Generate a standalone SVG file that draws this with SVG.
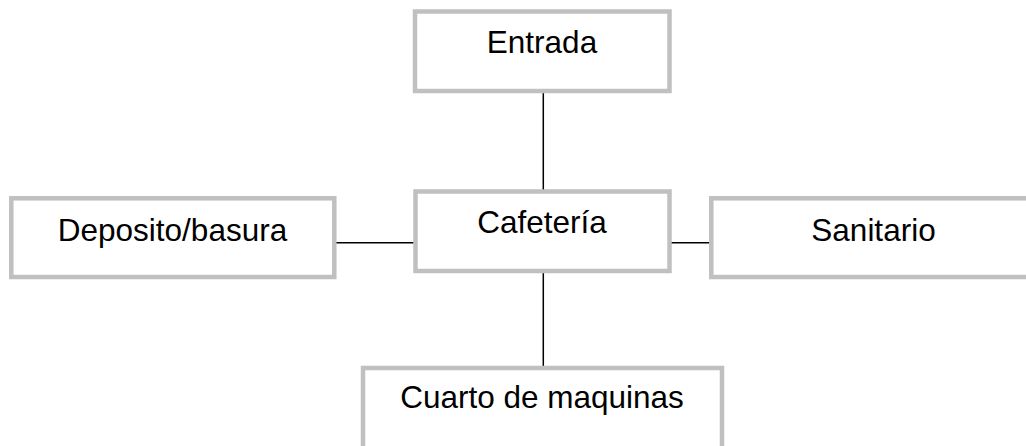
<svg xmlns="http://www.w3.org/2000/svg" width="1026" height="446" viewBox="0 0 1026 446">
<style>
.box{fill:#ffffff;stroke:#c0c0c0;stroke-width:4.5}
.lbl{font-family:"Liberation Sans",Arial,sans-serif;font-size:31.5px;fill:#000000;text-anchor:middle}
.conn line{stroke:#000000;stroke-width:1.5}
</style>
<rect width="1026" height="446" fill="#ffffff"/>
<g class="conn" id="connectors">
<line x1="543.3" y1="92" x2="543.3" y2="191"/>
<line x1="336" y1="242.7" x2="414" y2="242.7"/>
<line x1="671" y1="242.7" x2="710" y2="242.7"/>
<line x1="543.3" y1="272" x2="543.3" y2="366"/>
</g>
<g id="entrada">
<rect class="box" x="415" y="11.5" width="254.5" height="79.5"/>
<text class="lbl" x="542" y="53.3">Entrada</text>
</g>
<g id="cafeteria">
<rect class="box" x="415.5" y="191.5" width="254" height="79.5"/>
<text class="lbl" x="542" y="233.3">Cafetería</text>
</g>
<g id="deposito">
<rect class="box" x="11.3" y="198.3" width="323" height="78.7"/>
<text class="lbl" x="172.5" y="241">Deposito/basura</text>
</g>
<g id="sanitario">
<rect class="box" x="711.3" y="198.3" width="330" height="78.7"/>
<text class="lbl" x="873.5" y="241">Sanitario</text>
</g>
<g id="cuarto">
<rect class="box" x="363" y="368" width="359" height="90"/>
<text class="lbl" x="542" y="408.3">Cuarto de maquinas</text>
</g>
</svg>
